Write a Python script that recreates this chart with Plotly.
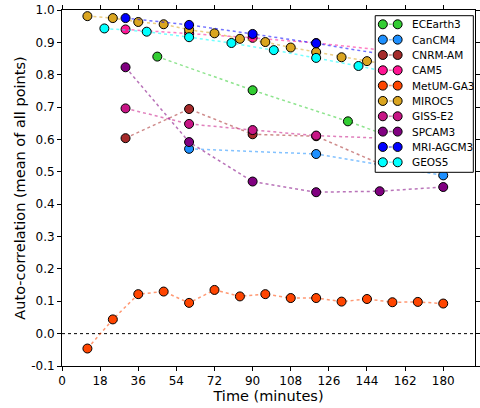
import plotly.graph_objects as go

names = ["ECEarth3", "CanCM4", "CNRM-AM", "CAM5", "MetUM-GA3", "MIROC5",
         "GISS-E2", "SPCAM3", "MRI-AGCM3", "GEOS5"]
colors = ["#32CD32", "#1E90FF", "#A52A2A", "#FF1493", "#FF4500", "#DAA520",
          "#C71585", "#800080", "#0000FF", "#00FFFF"]

ecearth_x = [45, 90, 135, 180]
ecearth_y = [0.856, 0.752, 0.656, 0.55]
cancm_x = [60, 120, 180]
cancm_y = [0.571, 0.555, 0.489]
cnrm_x = [30, 60, 90, 120, 150]
cnrm_y = [0.604, 0.694, 0.616, 0.61, 0.525]
cam5_x = [30, 60, 90, 120, 180]
cam5_y = [0.940, 0.928, 0.914, 0.898, 0.856]
metum_x = [12, 24, 36, 48, 60, 72, 84, 96, 108, 120, 132, 144, 156, 168, 180]
metum_y = [-0.046, 0.044, 0.122, 0.130, 0.095, 0.135, 0.115, 0.122, 0.110,
           0.110, 0.099, 0.107, 0.097, 0.098, 0.093]
miroc_x = [12, 24, 36, 48, 60, 72, 84, 96, 108, 120, 132, 144, 156, 168, 180]
miroc_y = [0.981, 0.975, 0.963, 0.956, 0.939, 0.928, 0.911, 0.901, 0.884,
           0.870, 0.854, 0.842, 0.830, 0.820, 0.810]
giss_x = [30, 60, 90, 120, 180]
giss_y = [0.696, 0.648, 0.629, 0.612, 0.596]
spcam_x = [30, 60, 90, 120, 150, 180]
spcam_y = [0.823, 0.592, 0.470, 0.437, 0.440, 0.453]
mri_x = [30, 60, 90, 120, 180]
mri_y = [0.975, 0.954, 0.926, 0.897, 0.832]
geos_x = [20, 40, 60, 80, 100, 120, 140, 160, 180]
geos_y = [0.943, 0.933, 0.916, 0.898, 0.876, 0.852, 0.827, 0.80, 0.78]

xs = [ecearth_x, cancm_x, cnrm_x, cam5_x, metum_x, miroc_x, giss_x, spcam_x, mri_x, geos_x]
ys = [ecearth_y, cancm_y, cnrm_y, cam5_y, metum_y, miroc_y, giss_y, spcam_y, mri_y, geos_y]

x_ticks = list(range(0, 181, 18))
y_ticks = [round(-0.1 + 0.1 * i, 1) for i in range(12)]

W, H = 480, 408
ML, MR, MT, MB = 62, 0, 10, 42


def rgba(h, a):
    h = h.lstrip("#")
    return "rgba(%d,%d,%d,%s)" % (int(h[0:2], 16), int(h[2:4], 16), int(h[4:6], 16), a)


fig = go.Figure()
fig.add_trace(go.Scatter(x=[0, 195], y=[0, 0], mode="lines",
                         line=dict(color="black", width=1, dash="dot"),
                         showlegend=False, hoverinfo="skip"))
for n, c, x, y in zip(names, colors, xs, ys):
    fig.add_trace(go.Scatter(
        x=x, y=y, name=n, mode="lines+markers", showlegend=False,
        line=dict(color=rgba(c, 0.55), width=1.5, dash="dot"),
        marker=dict(color=c, size=9, line=dict(color="black", width=1)),
    ))

# Custom legend drawn on an overlay axis measured in page pixels
box_l, box_r, box_t, box_b = 379, 478.3, 15.7, 172.3
row0, row_step = 24.3, 15.33
mk1, mk2, txt_x = 386.7, 401.7, 414
fig.add_trace(go.Scatter(
    x=[box_l, box_r, box_r, box_l, box_l], y=[box_t, box_t, box_b, box_b, box_t],
    mode="lines", fill="toself", fillcolor="white",
    line=dict(color="black", width=1), xaxis="x2", yaxis="y2",
    showlegend=False, hoverinfo="skip"))
annotations = []
for i, (n, c) in enumerate(zip(names, colors)):
    yc = row0 + i * row_step
    fig.add_trace(go.Scatter(
        x=[mk1, mk2], y=[yc, yc], mode="lines+markers", xaxis="x2", yaxis="y2",
        line=dict(color=rgba(c, 0.55), width=1.5, dash="dot"),
        marker=dict(color=c, size=9, line=dict(color="black", width=1)),
        showlegend=False, hoverinfo="skip"))
    annotations.append(dict(x=txt_x, y=yc, xref="x2", yref="y2", text=n,
                            showarrow=False, xanchor="left", yanchor="middle",
                            font=dict(family="DejaVu Sans", size=10.5, color="black")))

tick_font = dict(family="DejaVu Sans", size=12, color="black")
fig.update_layout(
    width=W, height=H,
    margin=dict(l=ML, r=MR, t=MT, b=MB),
    plot_bgcolor="white", paper_bgcolor="white",
    font=dict(family="DejaVu Sans", size=12, color="black"),
    showlegend=False,
    annotations=annotations,
    xaxis=dict(range=[0, 195], tickvals=x_ticks, ticktext=[str(v) for v in x_ticks],
               showgrid=False, zeroline=False, showline=True, linecolor="black",
               linewidth=1, mirror="ticks", ticks="outside", ticklen=4,
               tickcolor="black", tickfont=tick_font,
               title=dict(text="Time (minutes)", font=dict(size=14.5), standoff=1)),
    yaxis=dict(range=[-0.1, 1.0], tickvals=y_ticks,
               ticktext=["%.1f" % v for v in y_ticks],
               showgrid=False, zeroline=False, showline=True, linecolor="black",
               linewidth=1, mirror="ticks", ticks="outside", ticklen=4,
               tickcolor="black", tickfont=tick_font,
               title=dict(text="Auto-correlation (mean of all points)",
                          font=dict(size=14.5), standoff=2)),
    xaxis2=dict(range=[ML, W - MR], overlaying="x", visible=False, fixedrange=True),
    yaxis2=dict(range=[H - MB, MT], overlaying="y", visible=False, fixedrange=True),
)
fig.write_html("out.html")
